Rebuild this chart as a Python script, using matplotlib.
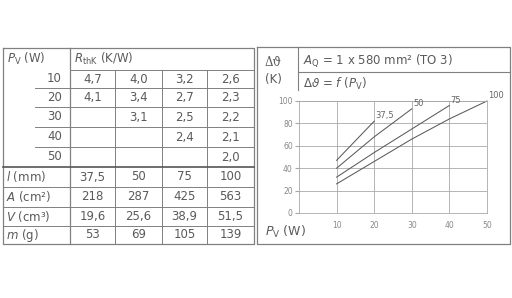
import matplotlib
matplotlib.use("Agg")
import matplotlib.pyplot as plt

# table data
p_v = [10, 20, 30, 40, 50]
lengths = [37.5, 50, 75, 100]
r_thk = {
    37.5: [4.7, 4.1, None, None, None],
    50: [4.0, 3.4, 3.1, None, None],
    75: [3.2, 2.7, 2.5, 2.4, None],
    100: [2.6, 2.3, 2.2, 2.1, 2.0],
}
area = [218, 287, 425, 563]
volume = [19.6, 25.6, 38.9, 51.5]
mass = [53, 69, 105, 139]

# curve data (delta theta in K)
dt_375 = [47, 82]
dt_50 = [40, 68, 93]
dt_75 = [32, 54, 75, 96]
dt_100 = [26, 46, 66, 84, 100]
curves = [("37,5", dt_375), ("50", dt_50), ("75", dt_75), ("100", dt_100)]


def de(v, dec=None):
    if v is None:
        return ""
    if dec is not None:
        return f"{v:.{dec}f}".replace(".", ",")
    if float(v).is_integer():
        return str(int(v))
    return f"{v:.1f}".replace(".", ",")


TXT = "#5a5a5a"
LN = "#808080"

fig = plt.figure(figsize=(5.12, 2.98), dpi=100)
fig.patch.set_facecolor("white")
ov = fig.add_axes([0, 0, 1, 1])
ov.set_xlim(0, 512)
ov.set_ylim(298, 0)
ov.axis("off")

# ---- table ----
cols = [3, 70, 115, 162, 207, 254]
rows = [48, 70, 88, 107, 127, 147, 167, 187, 207, 226, 244]
top, bot = rows[0], rows[-1]
ov.plot([cols[0], cols[-1], cols[-1], cols[0], cols[0]], [top, top, bot, bot, top], color=LN, lw=0.9)
ov.plot([cols[1], cols[1]], [top, bot], color=LN, lw=0.9)
for c in cols[2:-1]:
    ov.plot([c, c], [rows[1], bot], color=LN, lw=0.7)
ov.plot([cols[1], cols[-1]], [rows[1], rows[1]], color=LN, lw=0.7)
for r in rows[2:6]:
    ov.plot([35, cols[-1]], [r, r], color=LN, lw=0.7)
ov.plot([cols[0], cols[-1]], [rows[6], rows[6]], color="#555555", lw=1.2)
for r in rows[7:10]:
    ov.plot([cols[0], cols[-1]], [r, r], color=LN, lw=0.7)

fs = 8.5
ov.text(7, (rows[0] + rows[1]) / 2, r"$P_\mathrm{V}$ (W)", fontsize=fs, color=TXT, va="center")
ov.text(74, (rows[0] + rows[1]) / 2, r"$R_\mathrm{thK}$ (K/W)", fontsize=fs, color=TXT, va="center")
for i, p in enumerate(p_v):
    yc = (rows[i + 1] + rows[i + 2]) / 2
    ov.text(62, yc, str(p), fontsize=fs, color=TXT, ha="right", va="center")
    for j, L in enumerate(lengths):
        xc = (cols[j + 1] + cols[j + 2]) / 2
        ov.text(xc, yc, de(r_thk[L][i], 1), fontsize=fs, color=TXT, ha="center", va="center")

lower = [(r"$l$ (mm)", lengths), ("$A$ (cm\u00b2)", area),
         ("$V$ (cm\u00b3)", volume), (r"$m$ (g)", mass)]
for k, (lab, vals) in enumerate(lower):
    yc = (rows[6 + k] + rows[7 + k]) / 2
    ov.text(6, yc, lab, fontsize=fs, color=TXT, va="center")
    for j, v in enumerate(vals):
        xc = (cols[j + 1] + cols[j + 2]) / 2
        ov.text(xc, yc, de(v), fontsize=fs, color=TXT, ha="center", va="center")

# ---- chart panel frame ----
bx0, bx1, by0, by1 = 257, 510, 47, 244
ov.plot([bx0, bx1, bx1, bx0, bx0], [by0, by0, by1, by1, by0], color=LN, lw=0.9)
ov.plot([298, 298], [by0, 90], color=LN, lw=0.8)
ov.plot([298, bx1], [72, 72], color=LN, lw=0.8)
ov.text(265, 62, "\u0394\u03d1", fontsize=8.5, color=TXT, va="center", family="DejaVu Serif")
ov.text(265, 79, "(K)", fontsize=8.5, color=TXT, va="center")
ov.text(303, 61, "$A_\\mathrm{Q}$ = 1 x 580 mm\u00b2 (TO 3)", fontsize=8.5, color=TXT, va="center")
ov.text(303, 84, r"$\Delta\vartheta$ = $f$ ($P_\mathrm{V}$)", fontsize=8.5, color=TXT, va="center")
ov.text(265, 232, r"$P_\mathrm{V}$ (W)", fontsize=9, color=TXT, va="center")

# ---- chart ----
ax = fig.add_axes([299 / 512, 1 - 213 / 298, 188 / 512, 112 / 298])
ax.patch.set_alpha(0)
ax.set_xlim(0, 50)
ax.set_ylim(0, 100)
ax.set_xticks([10, 20, 30, 40, 50])
ax.set_yticks([0, 20, 40, 60, 80, 100])
ax.grid(True, color="#a8a8a8", lw=0.6)
for s in ax.spines.values():
    s.set_color("#a8a8a8")
    s.set_linewidth(0.6)
ax.tick_params(axis="y", length=3, color="#a8a8a8", labelsize=5.5, labelcolor="#888888", pad=1.5)
ax.tick_params(axis="x", length=0, labelsize=5.5, labelcolor="#888888", pad=6)

for lab, ys in curves:
    xs = p_v[:len(ys)]
    ax.plot(xs, ys, color="#5a5a5a", lw=0.75, clip_on=False)
    ax.annotate(lab, (xs[-1], ys[-1]), xytext=(1, 0.5), textcoords="offset points",
                fontsize=6, color="#666666", ha="left", va="bottom", annotation_clip=False)

fig.savefig("out.png", dpi=100, facecolor="white")
